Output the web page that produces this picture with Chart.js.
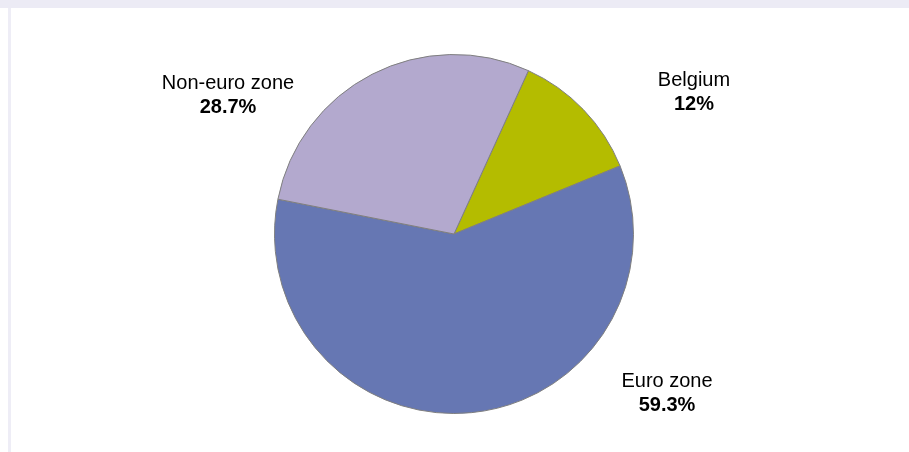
<!DOCTYPE html>
<html>
<head>
<meta charset="utf-8">
<script src="https://cdn.jsdelivr.net/npm/chart.js@4.4.0/dist/chart.umd.min.js"></script>
<style>
    html, body { margin: 0; padding: 0; background: #ffffff; }
    #wrap { position: relative; width: 909px; height: 452px; overflow: hidden; }
    #topband { position: absolute; left: 0; top: 0; width: 909px; height: 8px; background: #ecebf5; }
    #leftline { position: absolute; left: 8px; top: 8px; width: 3px; height: 444px; background: #eeedf6; }
    #mycanvas { position: absolute; left: 0; top: 0; }
</style>
</head>
<body>
<div id="wrap">
    <div id="topband"></div>
    <div id="leftline"></div>
    <canvas id="mycanvas" width="909" height="452"></canvas>
</div>
<script>
var regions = ['Belgium', 'Euro zone', 'Non-euro zone'];
var shares = [12, 59.3, 28.7];
var shareLabels = ['12%', '59.3%', '28.7%'];
var sliceColors = ['#b4bc00', '#6677b3', '#b3a9ce'];

// label anchor offsets from the pie centre, in px
var labelOffsets = [
    {x: 240, y: -142},
    {x: 213, y: 159},
    {x: -226, y: -139}
];

var pieLabels = {
    id: 'pieLabels',
    afterDatasetsDraw: function(chart) {
        var ctx = chart.ctx;
        var arcs = chart.getDatasetMeta(0).data;
        ctx.save();
        ctx.fillStyle = '#000000';
        ctx.textAlign = 'center';
        ctx.textBaseline = 'middle';
        for (var i = 0; i < arcs.length; i++) {
            var cx = arcs[i].x + labelOffsets[i].x;
            var cy = arcs[i].y + labelOffsets[i].y;
            ctx.font = '20px "Liberation Sans", Arial, sans-serif';
            ctx.fillText(regions[i], cx, cy - 12);
            ctx.font = 'bold 20px "Liberation Sans", Arial, sans-serif';
            ctx.fillText(shareLabels[i], cx, cy + 12);
        }
        ctx.restore();
    }
};

var ctx = document.getElementById('mycanvas');

var pieChart = new Chart(ctx, {
    type: 'pie',
    data: {
        labels: regions,
        datasets: [
            {
                data: shares,
                backgroundColor: sliceColors,
                borderColor: '#7f7f7f',
                borderWidth: 1,
                hoverOffset: 0
            }
        ]
    },
    options: {
        responsive: false,
        animation: false,
        rotation: 24.5,
        layout: {
            padding: {left: 274, right: 275, top: 54, bottom: 38}
        },
        plugins: {
            legend: {display: false},
            tooltip: {enabled: false}
        }
    },
    plugins: [pieLabels]
});
</script>
</body>
</html>
